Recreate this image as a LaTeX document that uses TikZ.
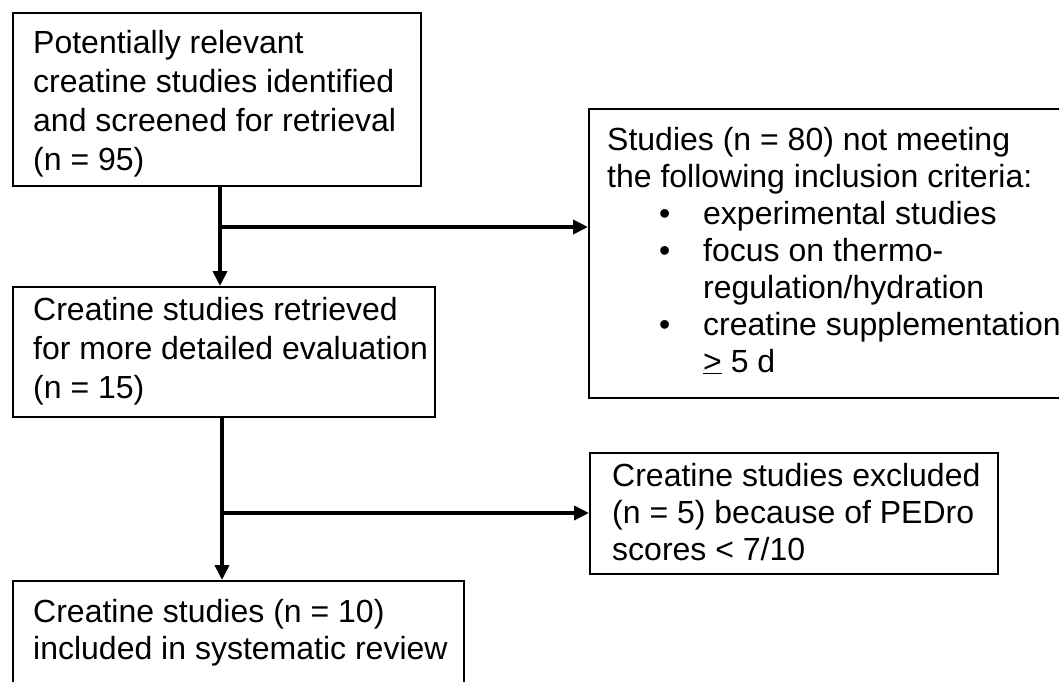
\documentclass[tikz,border=0pt]{standalone}
\usepackage{fontspec}
\setmainfont{Liberation Sans}
\usetikzlibrary{arrows.meta}

\newcommand{\critem}{\hspace*{52pt}\makebox[44pt][l]{\textbullet}}
\newcommand{\critgap}{\hspace*{96pt}}

\tikzset{
  box/.style={draw, line width=2pt, anchor=north west, inner sep=0pt},
  txt/.style={anchor=base west, align=left, inner sep=0pt, font=\fontsize{32}{37}\selectfont},
  flow/.style={line width=4pt, -{Triangle[length=15pt,width=14pt]}}
}

\begin{document}
\begin{tikzpicture}[x=1pt, y=-1pt]
\useasboundingbox (0,0) rectangle (1059,681);
\clip (0,0) rectangle (1059,681);
% Boxes
\node[box, minimum width=408pt, minimum height=173pt] (found) at (12,12) {};
\node[box, minimum width=500pt, minimum height=289pt] (notmet) at (588,108) {};
\node[box, minimum width=422pt, minimum height=130pt] (retrieved) at (12,286) {};
\node[box, minimum width=408pt, minimum height=121pt] (excluded) at (589,452) {};
\node[box, minimum width=451pt, minimum height=140pt] (included) at (12,580) {};
% Texts (placed at the baseline of their last line)
\node[txt, font=\fontsize{32}{39}\selectfont] (foundtext) at (33,170)
  {Potentially relevant\\creatine studies identified\\and screened for retrieval\\(n = 95)};
\node[txt] (notmettext) at (607,372)
  {Studies (n = 80) not meeting\\the following inclusion criteria:\\
   \critem experimental studies\\
   \critem focus on thermo-\\
   \critgap regulation/hydration\\
   \critem creatine supplementation\\
   \critgap\underline{>} 5 d};
\node[txt, font=\fontsize{32}{39}\selectfont] (retrievedtext) at (33,398)
  {Creatine studies retrieved\\for more detailed evaluation\\(n = 15)};
\node[txt] (excludedtext) at (612,560)
  {Creatine studies excluded\\(n = 5) because of PEDro\\scores < 7/10};
\node[txt] (includedtext) at (33,659)
  {Creatine studies (n = 10)\\included in systematic review};
% Arrows
\coordinate (fork1) at (220,227);
\draw[flow] (found.south -| fork1) -- (fork1 |- retrieved.north);
\draw[flow] (fork1) -- (fork1 -| notmet.west);
\coordinate (fork2) at (222,513);
\draw[flow] (retrieved.south -| fork2) -- (fork2 |- included.north);
\draw[flow] (fork2) -- (fork2 -| excluded.west);
\end{tikzpicture}
\end{document}
